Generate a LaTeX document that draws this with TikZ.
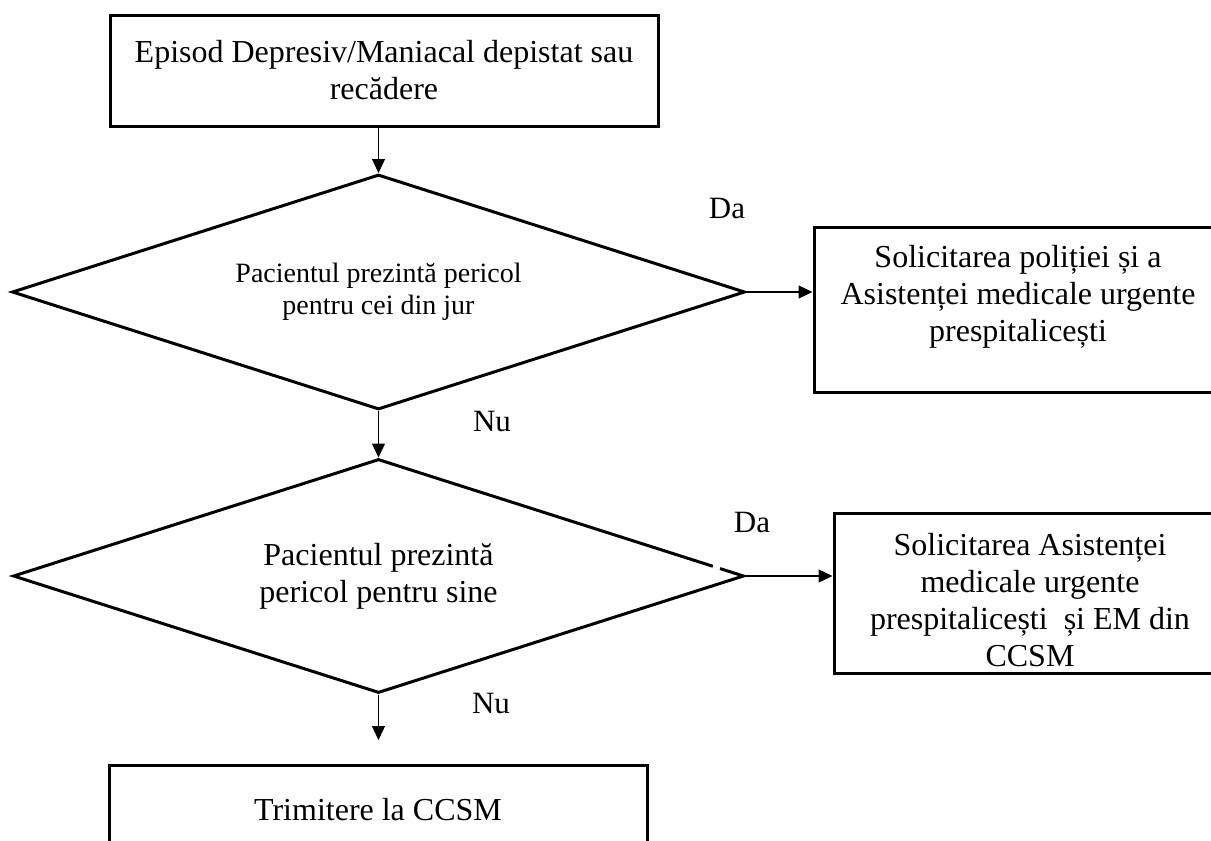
\documentclass[tikz,border=0pt]{standalone}
\usepackage{fontspec}
\setmainfont{Liberation Serif}
\usetikzlibrary{arrows.meta,shapes.geometric}
\begin{document}
\begin{tikzpicture}[x=1pt,y=-1pt,
  box/.style={draw, line width=3pt, rectangle, inner sep=0pt},
  txt/.style={align=center, font=\fontsize{32}{37}\selectfont, inner sep=0pt},
  small/.style={align=center, font=\fontsize{28}{32}\selectfont, inner sep=0pt},
  dec/.style={draw, line width=3pt, diamond, inner sep=0pt, aspect=3.1},
  arr/.style={-{Triangle[length=14pt,width=13pt]}, line width=1.3pt},
  lbl/.style={font=\fontsize{31}{37}\selectfont, inner sep=0pt}]
\useasboundingbox (0,0) rectangle (1211,841);
\clip (0,0) rectangle (1211,841);

\node[box, txt, minimum width=548pt, minimum height=111pt] (b1) at (384,70.5)
  {Episod Depresiv/Maniacal depistat sau\\recădere};

\node[dec, small, minimum width=733pt, minimum height=235pt] (d1) at (378.5,292)
  {Pacientul prezintă pericol\\pentru cei din jur};

\node[box, minimum width=405pt, minimum height=165pt] (b2) at (1016.5,309.5) {};
\node[txt] (b2t) at (1018,297) {Solicitarea poliției și a\\Asistenței medicale urgente\\prespitalicești};

\node[dec, txt, minimum width=731pt, minimum height=234pt] (d2) at (378.5,576)
  {Pacientul prezintă\\pericol pentru sine};

\node[box, minimum width=400pt, minimum height=160pt] (b3) at (1034,593) {};
\node[txt] (b3t) at (1030,600) {Solicitarea Asistenței\\medicale urgente\\prespitalicești\ \ și EM din\\CCSM};

\node[box, txt, minimum width=538pt, minimum height=90pt] (b4) at (378,810)
  {Trimitere la CCSM};

\node[lbl] (da1) at (727,208) {Da};
\node[lbl] (nu1) at (492,421) {Nu};
\node[lbl] (da2) at (752,522) {Da};
\node[lbl] (nu2) at (491,703) {Nu};

\coordinate (c4) at (378.5,740);

\draw[arr] (b1.south -| d1.north) -- (d1.north);
\draw[arr] (d1.east) -- (d1.east -| b2.west);
\draw[arr] (d1.south) -- (d2.north);
\draw[arr] (d2.east) -- (d2.east -| b3.west);
\draw[arr] (d2.south) -- (c4);

\draw[white, line width=4.5pt] (713,566) -- (720,568.3);
\end{tikzpicture}
\end{document}
